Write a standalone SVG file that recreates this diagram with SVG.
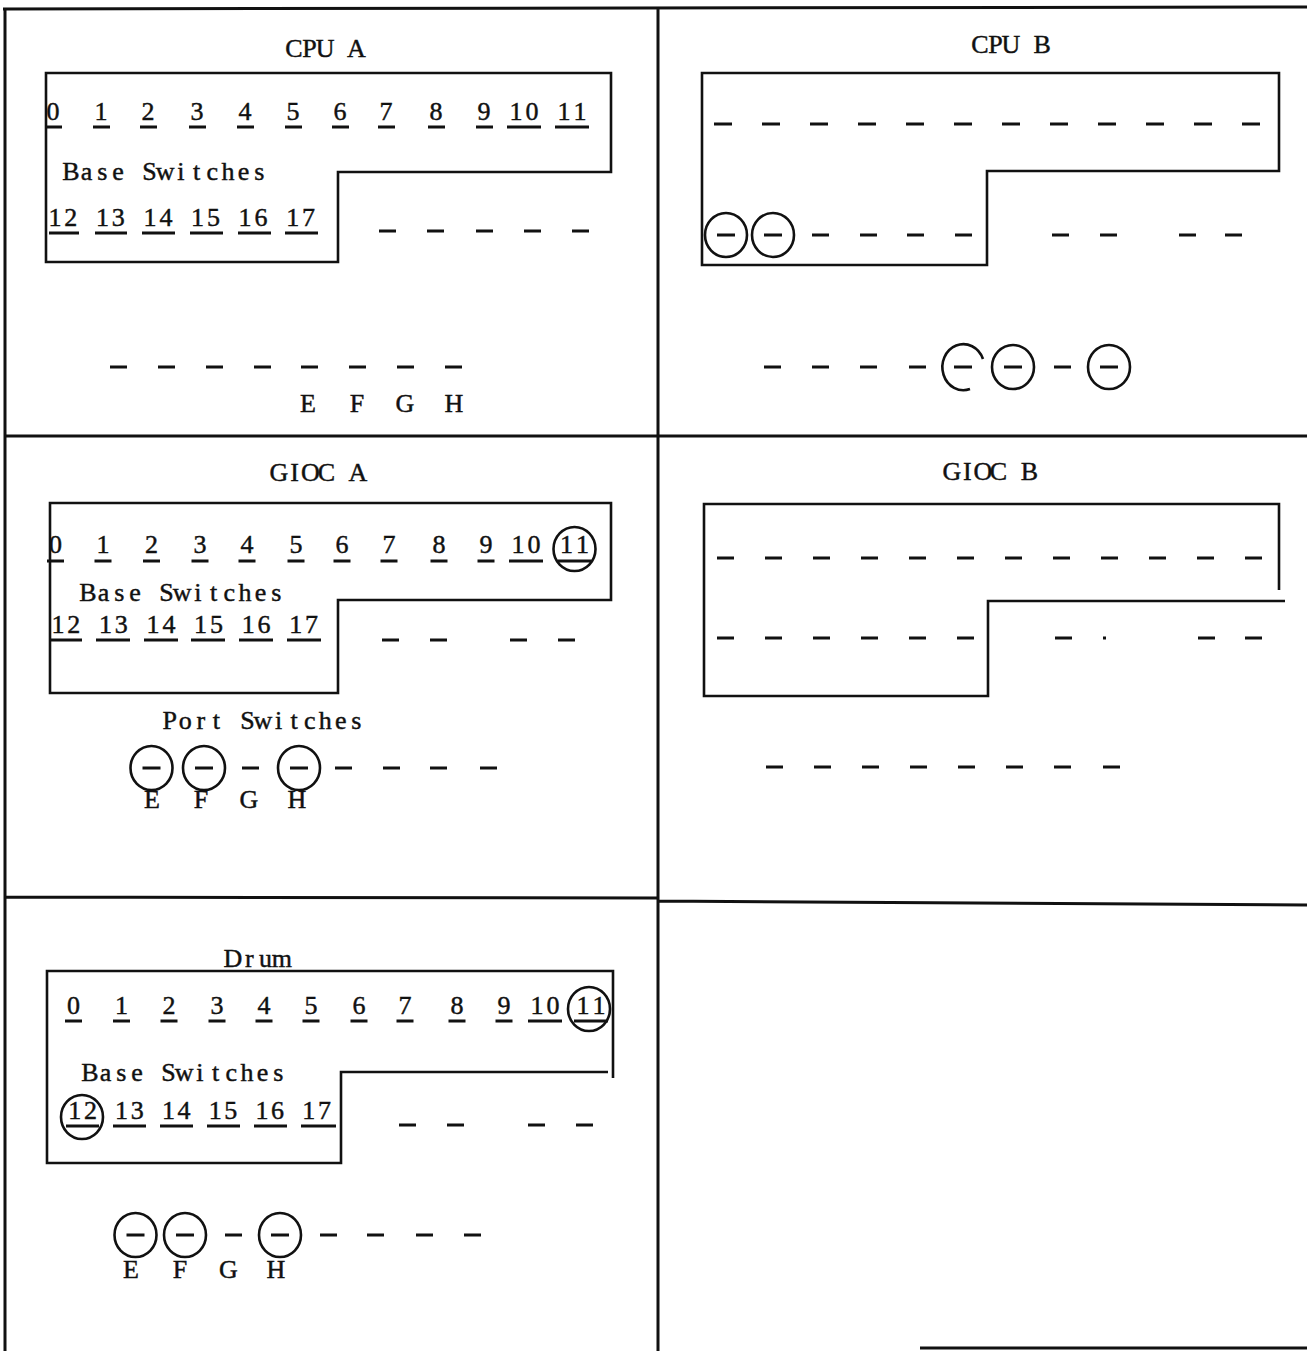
<svg xmlns="http://www.w3.org/2000/svg" width="1307" height="1351" viewBox="0 0 1307 1351">
<style>
text{font-family:"Liberation Serif","Times New Roman",serif;font-size:26px;fill:#111;stroke:#111;stroke-width:0.45;text-anchor:middle}
.frame{fill:none;stroke:#111;stroke-width:3}
.box{fill:none;stroke:#111;stroke-width:2.6}
.u{fill:none;stroke:#111;stroke-width:2.8}
.c{fill:none;stroke:#111;stroke-width:2.6}
</style>
<rect width="1307" height="1351" fill="#fff"/>
<g id="frame">
<path class="frame" d="M3,9 L1307,7 M5,9 V1351 M658,9 V1351 M5,436 H1307 M5,897 L658,898 M658,901 L1307,905 M920,1348 H1307"/>
</g>
<g id="connectors"></g>

<g id="cpu-a">
<text x="294 309.6 325.2 340.8 356.4" y="57">CPU A</text>
<path class="box" d="M46,73 H611 V172 H338 V262 H46 Z"/>
<text x="53" y="120">0</text><text x="101" y="120">1</text><text x="148" y="120">2</text><text x="197" y="120">3</text><text x="245" y="120">4</text><text x="293" y="120">5</text><text x="340" y="120">6</text><text x="386" y="120">7</text><text x="436" y="120">8</text><text x="484" y="120">9</text><text x="516 532" y="120">10</text><text x="564 580" y="120">11</text>
<path class="u" d="M45,127h17 M93,127h17 M140,127h17 M189,127h17 M237,127h17 M285,127h17 M332,127h17 M378,127h17 M428,127h17 M476,127h17 M507,127h34 M555,127h34"/>
<text x="70.9 86.6 102.3 118 133.7 149.4 165.1 180.8 196.5 212.2 227.9 243.6 259.3" y="180">Base Switches</text>
<text x="54.9 70.8" y="226">12</text><text x="102.5 118.3" y="226">13</text><text x="150 165.9" y="226">14</text><text x="197.6 213.4" y="226">15</text><text x="245.1 261" y="226">16</text><text x="292.7 308.5" y="226">17</text>
<path class="u" d="M49,233h30 M95,233h32 M142,233h33 M190,233h33 M238,233h33 M285,233h33"/>
<path class="u" d="M379,231h17 M427,231h17 M476,231h17 M524,231h17 M572,231h17"/>
<path class="u" d="M110,367h17 M158,367h17 M206,367h17 M254,367h17 M301,367h17 M349,367h17 M397,367h17 M445,367h17"/>
<text x="308" y="412">E</text><text x="357" y="412">F</text><text x="405" y="412">G</text><text x="454" y="412">H</text>
</g>

<g id="cpu-b">
<text x="979.8 995.4 1011 1026.6 1042.2" y="53">CPU B</text>
<path class="box" d="M702,73 H1279 V171 H987 V265 H702 Z"/>
<path class="u" d="M714,124h18 M762,124h18 M810,124h18 M858,124h18 M906,124h18 M954,124h18 M1002,124h18 M1050,124h18 M1098,124h18 M1146,124h18 M1194,124h18 M1242,124h18"/>
<ellipse class="c" cx="726" cy="235" rx="21" ry="22"/>
<ellipse class="c" cx="773" cy="235" rx="21" ry="22"/>
<path class="u" d="M717,235h18 M764,235h18 M812,235h17 M860,235h17 M907,235h17 M955,235h17 M1052,235h17 M1100,235h17 M1179,235h17 M1225,235h17"/>
<path class="u" d="M764,367h17 M812,367h17 M860,367h17 M909,367h17 M954,367h18 M1004,367h18 M1054,367h17 M1100,367h18"/>
<path class="c" d="M983,359 A21,23 0 1 0 970,389"/>
<ellipse class="c" cx="1013" cy="367" rx="21" ry="22"/>
<ellipse class="c" cx="1109" cy="367" rx="21" ry="22"/>
</g>

<g id="gioc-a">
<text x="278.9 294.7 310.5 326.3 342.1 357.9" y="481">GIOC A</text>
<path class="box" d="M50,503 H611 V600 H338 V693 H50 Z"/>
<text x="55.5" y="553">0</text><text x="103" y="553">1</text><text x="151.5" y="553">2</text><text x="200" y="553">3</text><text x="247" y="553">4</text><text x="296" y="553">5</text><text x="342" y="553">6</text><text x="389" y="553">7</text><text x="439" y="553">8</text><text x="486" y="553">9</text><text x="518 534" y="553">10</text><text x="566.5 582.5" y="553">11</text>
<path class="u" d="M47,561h17 M94.5,561h17 M143,561h17 M191.5,561h17 M238.5,561h17 M287.5,561h17 M333.5,561h17 M380.5,561h17 M430.5,561h17 M477.5,561h17 M509,561h34 M557.5,561h34"/>
<ellipse class="c" cx="574.5" cy="549" rx="21" ry="22"/>
<text x="87.9 103.6 119.3 135 150.7 166.4 182.1 197.8 213.5 229.2 244.9 260.6 276.3" y="601">Base Switches</text>
<text x="57.9 73.8" y="633">12</text><text x="105.5 121.3" y="633">13</text><text x="153 168.9" y="633">14</text><text x="200.6 216.4" y="633">15</text><text x="248.2 264" y="633">16</text><text x="295.7 311.5" y="633">17</text>
<path class="u" d="M50,640h32 M96,640h34 M144,640h34 M191,640h34 M239,640h34 M287,640h34"/>
<path class="u" d="M382,640h17 M430,640h17 M510,640h17 M558,640h17"/>
<text x="169.8 185.3 200.9 216.4 232 247.5 263 278.6 294.1 309.7 325.2 340.7 356.3" y="729">Port Switches</text>
<ellipse class="c" cx="151.5" cy="768" rx="21" ry="22"/>
<ellipse class="c" cx="204" cy="768" rx="21" ry="22"/>
<ellipse class="c" cx="299" cy="768" rx="21" ry="22"/>
<path class="u" d="M142.5,768h18 M195,768h18 M242,768h17 M290,768h18 M335,768h17 M383,768h17 M430,768h17 M480,768h17"/>
<text x="152" y="808">E</text><text x="201" y="808">F</text><text x="249" y="808">G</text><text x="297" y="808">H</text>
</g>

<g id="gioc-b">
<text x="951.8 967.3 982.8 998.3 1013.8 1029.3" y="480">GIOC B</text>
<path class="box" d="M1279,590 V504 H704 V696 H988 V601 H1285"/>
<path class="u" d="M717,558h17 M765,558h17 M813,558h17 M861,558h17 M909,558h17 M957,558h17 M1005,558h17 M1053,558h17 M1101,558h17 M1149,558h17 M1197,558h17 M1245,558h17"/>
<path class="u" d="M717,638h17 M765,638h17 M813,638h17 M861,638h17 M909,638h17 M957,638h17 M1055,638h17 M1103,638h3 M1198,638h17 M1245,638h17"/>
<path class="u" d="M766,767h17 M814,767h17 M862,767h17 M910,767h17 M958,767h17 M1006,767h17 M1054,767h17 M1103,767h17"/>
</g>

<g id="drum">
<text x="233 249.3 265.5 281.8" y="967">Drum</text>
<path class="box" d="M613,1078 V971 H47 V1163 H341 V1072 H608"/>
<text x="73.5" y="1014">0</text><text x="121.5" y="1014">1</text><text x="169" y="1014">2</text><text x="217" y="1014">3</text><text x="264" y="1014">4</text><text x="311" y="1014">5</text><text x="359" y="1014">6</text><text x="405" y="1014">7</text><text x="457" y="1014">8</text><text x="504" y="1014">9</text><text x="537 553" y="1014">10</text><text x="583 599" y="1014">11</text>
<path class="u" d="M65,1021h17 M113,1021h17 M160.5,1021h17 M208.5,1021h17 M255.5,1021h17 M302.5,1021h17 M350.5,1021h17 M396.5,1021h17 M448.5,1021h17 M495.5,1021h17 M528,1021h34 M574,1021h34"/>
<ellipse class="c" cx="589" cy="1009" rx="21" ry="22"/>
<text x="89.9 105.6 121.3 137 152.7 168.4 184.1 199.8 215.5 231.2 246.9 262.6 278.3" y="1081">Base Switches</text>
<text x="74.8 90.4" y="1119">12</text><text x="121.6 137.2" y="1119">13</text><text x="168.4 184" y="1119">14</text><text x="215.2 230.8" y="1119">15</text><text x="262 277.6" y="1119">16</text><text x="308.8 324.4" y="1119">17</text>
<path class="u" d="M66,1126h33 M113,1126h33 M160,1126h33 M207,1126h33 M254,1126h33 M301,1126h35"/>
<ellipse class="c" cx="82" cy="1117" rx="21" ry="22"/>
<path class="u" d="M399,1125h17 M447,1125h17 M528,1125h17 M576,1125h17"/>
<ellipse class="c" cx="135.5" cy="1235" rx="21" ry="22"/>
<ellipse class="c" cx="185" cy="1235" rx="21" ry="22"/>
<ellipse class="c" cx="280" cy="1235" rx="21" ry="22"/>
<path class="u" d="M126.5,1235h18 M176,1235h18 M225,1235h17 M271,1235h18 M320,1235h17 M367,1235h17 M416,1235h17 M464,1235h17"/>
<text x="131" y="1278">E</text><text x="180" y="1278">F</text><text x="228.5" y="1278">G</text><text x="276" y="1278">H</text>
</g>
</svg>
